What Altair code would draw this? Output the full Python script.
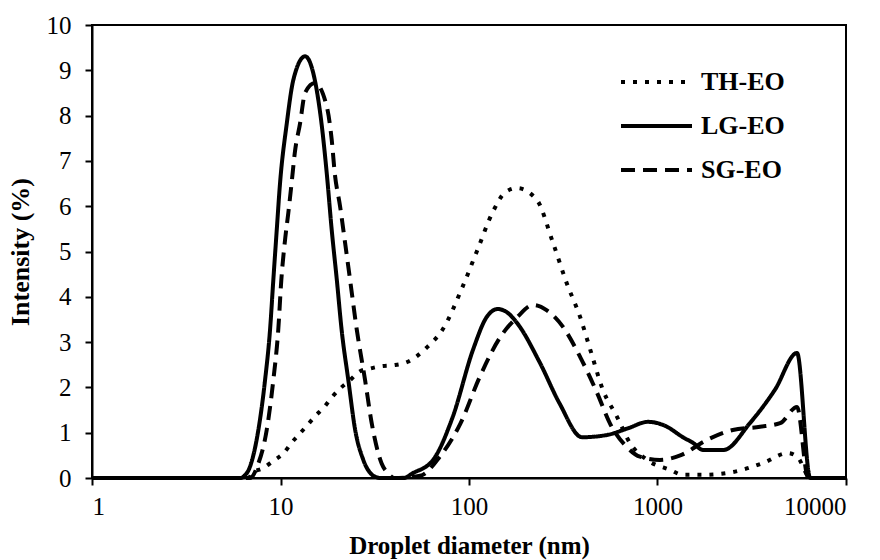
import altair as alt
import pandas as pd

FONT = "Liberation Serif"

series_names = ["TH-EO", "LG-EO", "SG-EO"]

th_x = [1, 6.8, 7.03, 8.1, 9.16, 10.4, 11.4, 12.6, 13.9, 15.4, 17.1, 18.8, 20.9, 23.4, 26.3, 30.1, 34.4, 39.8,
        47, 60, 73, 92, 110, 134, 155, 180, 229, 279, 330, 389, 440, 514, 610, 715, 880, 1165, 1365, 1740, 2500,
        3630, 4930, 5560, 6460, 10000]
th_y = [0, 0, 0.1, 0.22, 0.38, 0.55, 0.77, 0.97, 1.17, 1.38, 1.57, 1.79, 1.99, 2.16, 2.35, 2.42, 2.47, 2.49,
        2.56, 2.89, 3.3, 4.2, 5.0, 5.88, 6.3, 6.4, 6.14, 5.19, 4.3, 3.55, 2.83, 1.94, 1.35, 0.77, 0.4, 0.18, 0.07,
        0.07, 0.13, 0.33, 0.55, 0.45, 0, 0]

lg_x = [1, 6.2, 6.35, 6.89, 7.63, 8.28, 8.8, 9.16, 9.55, 9.94, 10.8, 11.7, 13.5, 15.2, 16.5, 17.6, 18.7, 19.9,
        21.1, 22.9, 24.9, 27.5, 31.7, 34, 45, 50, 64.5, 82, 105, 124, 142, 160, 180, 238, 302, 398, 540, 700, 890,
        1100, 1365, 1550, 1740, 2240, 3090, 4200, 5500, 6460, 10000]
lg_y = [0, 0, 0.03, 0.25, 1.06, 2.16, 3.27, 4.37, 5.47, 6.5, 7.83, 8.79, 9.31, 8.79, 7.83, 6.72, 5.47, 4.37,
        3.27, 2.16, 1.06, 0.4, 0.03, 0, 0, 0.1, 0.4, 1.35, 2.83, 3.55, 3.73, 3.65, 3.42, 2.54, 1.65, 0.9, 0.95, 1.1,
        1.24, 1.15, 0.9, 0.77, 0.62, 0.62, 1.21, 1.95, 2.76, 0, 0]

sg_x = [1, 6.89, 7.63, 8.45, 9.16, 9.73, 10.1, 10.6, 11.0, 11.5, 11.9, 12.7, 13.5, 15.2, 17.6, 18.7, 19.4, 20.7,
        22, 23.4, 25.4, 28.1, 30.5, 34.4, 37.3, 40, 55, 70, 90, 114, 146, 180, 219, 259, 316, 389, 478, 560, 689,
        807, 1030, 1320, 1830, 2510, 3500, 4470, 5500, 6300, 10000]
sg_y = [0, 0, 0.32, 1.06, 2.16, 3.27, 4.37, 5.3, 5.85, 6.58, 7.17, 7.83, 8.5, 8.72, 8.2, 7.46, 6.73, 6.0,
        5.2, 4.37, 3.27, 2.16, 1.2, 0.32, 0.1, 0, 0.05, 0.47, 1.2, 2.23, 3.1, 3.55, 3.82, 3.7, 3.33, 2.67, 1.88,
        1.2, 0.68, 0.47, 0.4, 0.5, 0.84, 1.06, 1.13, 1.21, 1.57, 0, 0]

x_ticks = [1, 10, 100, 1000, 10000]
y_ticks = list(range(0, 11))

rows = []
for name, xs, ys in [("TH-EO", th_x, th_y), ("LG-EO", lg_x, lg_y), ("SG-EO", sg_x, sg_y)]:
    for i, (a, b) in enumerate(zip(xs, ys)):
        rows.append({"series": name, "d": a, "v": b, "order": i})
df = pd.DataFrame(rows)


def build(use_encode):
    legend_kwargs = dict(
        title=None, orient="none", legendX=527, legendY=35, padding=0,
        symbolType="stroke", symbolSize=5041, symbolStrokeWidth=4, symbolStrokeColor="black",
        labelFont=FONT, labelFontSize=26, labelFontWeight="bold", labelColor="black",
        labelOffset=7, rowPadding=0, clipHeight=44,
    )
    if use_encode:
        legend_kwargs["encode"] = {"symbols": {"update": {"strokeCap": {"value": "round"}}}}
    dash_range = ([[0.1, 12], [1, 0], [13, 11.5]] if use_encode else [[4, 8], [1, 0], [14, 8]])
    chart = alt.Chart(df).mark_line(
        color="black", strokeWidth=4, interpolate="monotone",
        strokeCap="round" if use_encode else "butt", strokeJoin="round",
    ).encode(
        x=alt.X("d:Q", scale=alt.Scale(type="log", domain=[1, 10000], nice=False),
                axis=alt.Axis(title="Droplet diameter (nm)", values=x_ticks, format="d",
                              titleY=75, titleBaseline="alphabetic", labelPadding=9)),
        y=alt.Y("v:Q", scale=alt.Scale(domain=[0, 10], nice=False),
                axis=alt.Axis(title="Intensity (%)", values=y_ticks, labelPadding=14,
                              titleX=-64, titleBaseline="alphabetic", titleFontSize=26)),
        strokeDash=alt.StrokeDash("series:N", scale=alt.Scale(domain=series_names, range=dash_range),
                                  legend=alt.Legend(**legend_kwargs)),
        order="order:Q",
    ).properties(
        width=754, height=453, autosize="none",
        padding={"left": 92, "top": 25, "right": 34, "bottom": 82},
    ).configure_view(
        stroke="black", strokeWidth=2,
    ).configure_axis(
        grid=False, domainColor="black", domainWidth=2, tickColor="black", tickWidth=2, tickSize=7,
        labelFont=FONT, labelFontSize=25, labelColor="black",
        titleFont=FONT, titleFontSize=25, titleFontWeight="bold", titleColor="black",
    )
    return chart


try:
    chart = build(True)
    chart.save("out.html", embed_options={"renderer": "svg", "actions": False})
except Exception:
    chart = build(False)
    chart.save("out.html", embed_options={"renderer": "svg", "actions": False})
